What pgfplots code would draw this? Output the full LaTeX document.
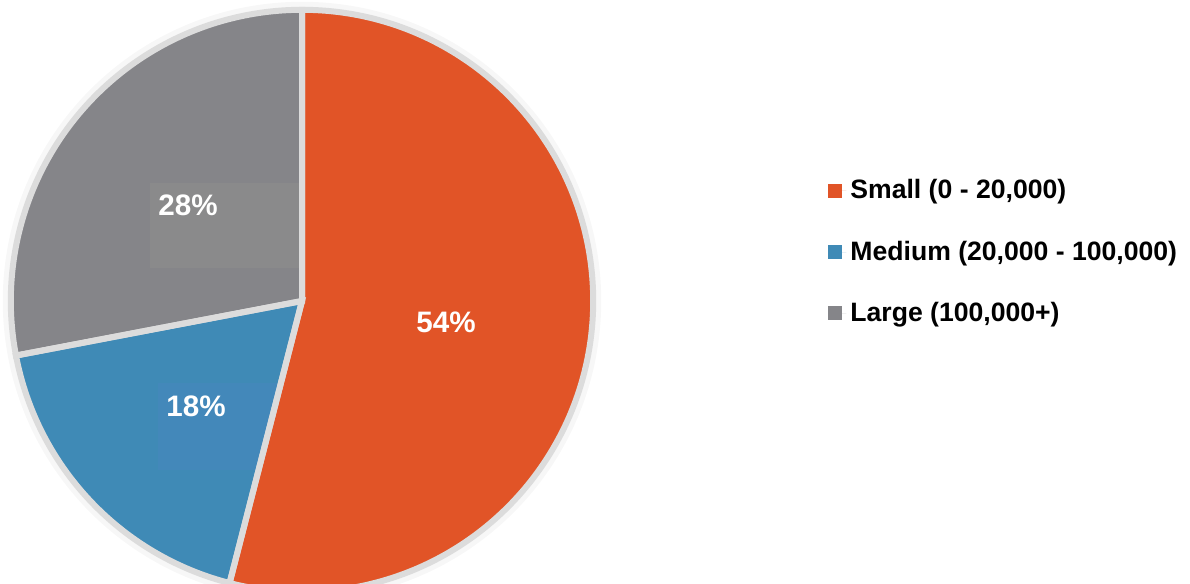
\documentclass[border=0pt]{standalone}
\usepackage{pgfplots}
\pgfplotsset{compat=1.18}
\usepackage{pgfplotstable}
\usepackage{fontspec}
\setmainfont{Liberation Sans}
\definecolor{cSmall}{HTML}{E15427}
\definecolor{cMedium}{HTML}{3F8AB6}
\definecolor{cLarge}{HTML}{858589}
\definecolor{bLarge}{HTML}{8A8A8B}
\definecolor{bMedium}{HTML}{4388BA}
\definecolor{gapc}{HTML}{DCDCDC}
\pgfplotstableread{
label value
Small 54
Medium 18
Large 28
}\piedata
\begin{document}
\begin{tikzpicture}
\pgfplotstablegetelem{0}{value}\of\piedata \pgfmathsetmacro{\vS}{\pgfplotsretval}
\pgfplotstablegetelem{1}{value}\of\piedata \pgfmathsetmacro{\vM}{\pgfplotsretval}
\pgfplotstablegetelem{2}{value}\of\piedata \pgfmathsetmacro{\vL}{\pgfplotsretval}
\pgfmathsetmacro{\aA}{90}
\pgfmathsetmacro{\aB}{90-3.6*\vS}
\pgfmathsetmacro{\aC}{\aB-3.6*\vM}
\pgfmathsetmacro{\aD}{\aC-3.6*\vL}
\def\R{145.6pt}
\begin{axis}[
  scale only axis, width=595pt, height=292pt,
  xmin=0, xmax=1190, ymin=0, ymax=584,
  hide axis, clip=true,
  legend cell align=left,
  legend style={at={(axis cs:822,413)}, anchor=north west, draw=none, fill=none,
    font=\bfseries\fontsize{13.3}{14.5}\selectfont, row sep=15.6pt,
    /tikz/every even column/.append style={column sep=4pt}},
  legend image code/.code={\fill[#1, draw=none] (0pt,-3.5pt) rectangle (7pt,3.5pt);
    \path (0pt,0pt) -- (9pt,0pt);},
]
\addlegendimage{fill=cSmall, draw=none}
\addlegendentry{Small (0 - 20,000)}
\addlegendimage{fill=cMedium, draw=none}
\addlegendentry{Medium (20,000 - 100,000)}
\addlegendimage{fill=cLarge, draw=none}
\addlegendentry{Large (100,000+)}
% soft halo
\draw[gray!6, line width=4pt] (axis cs:302,283) circle[radius=147.6pt];
% slices
\fill[cSmall] (axis cs:302,283) -- ++(\aA:\R) arc[start angle=\aA, end angle=\aB, radius=\R] -- cycle;
\fill[cMedium] (axis cs:302,283) -- ++(\aB:\R) arc[start angle=\aB, end angle=\aC, radius=\R] -- cycle;
\fill[cLarge] (axis cs:302,283) -- ++(\aC:\R) arc[start angle=\aC, end angle=\aD, radius=\R] -- cycle;
% label boxes
\begin{scope}
\clip (axis cs:302,283) -- ++(\aC:\R) arc[start angle=\aC, end angle=\aD, radius=\R] -- cycle;
\fill[bLarge] (axis cs:150,316) rectangle (axis cs:300,401);
\end{scope}
\begin{scope}
\clip (axis cs:302,283) -- ++(\aB:\R) arc[start angle=\aB, end angle=\aC, radius=\R] -- cycle;
\fill[bMedium] (axis cs:158,114) rectangle (axis cs:300,201);
\end{scope}
% separators
\draw[gapc, line width=3pt] (axis cs:302,283) -- ++(\aA:\R) arc[start angle=\aA, end angle=\aB, radius=\R] -- cycle;
\draw[gapc, line width=3pt] (axis cs:302,283) -- ++(\aB:\R) arc[start angle=\aB, end angle=\aC, radius=\R] -- cycle;
\draw[gapc, line width=3pt] (axis cs:302,283) -- ++(\aC:\R) arc[start angle=\aC, end angle=\aD, radius=\R] -- cycle;
% labels
\node[anchor=base west, inner sep=0pt, text=white, font=\bfseries\fontsize{14.8}{16}\selectfont] at (axis cs:416,251) {54\%};
\node[anchor=base west, inner sep=0pt, text=white, font=\bfseries\fontsize{14.8}{16}\selectfont] at (axis cs:158,368) {28\%};
\node[anchor=base west, inner sep=0pt, text=white, font=\bfseries\fontsize{14.8}{16}\selectfont] at (axis cs:166,167) {18\%};
\end{axis}
\pgfresetboundingbox
\useasboundingbox (current axis.south west) rectangle (current axis.north east);
\end{tikzpicture}
\end{document}
